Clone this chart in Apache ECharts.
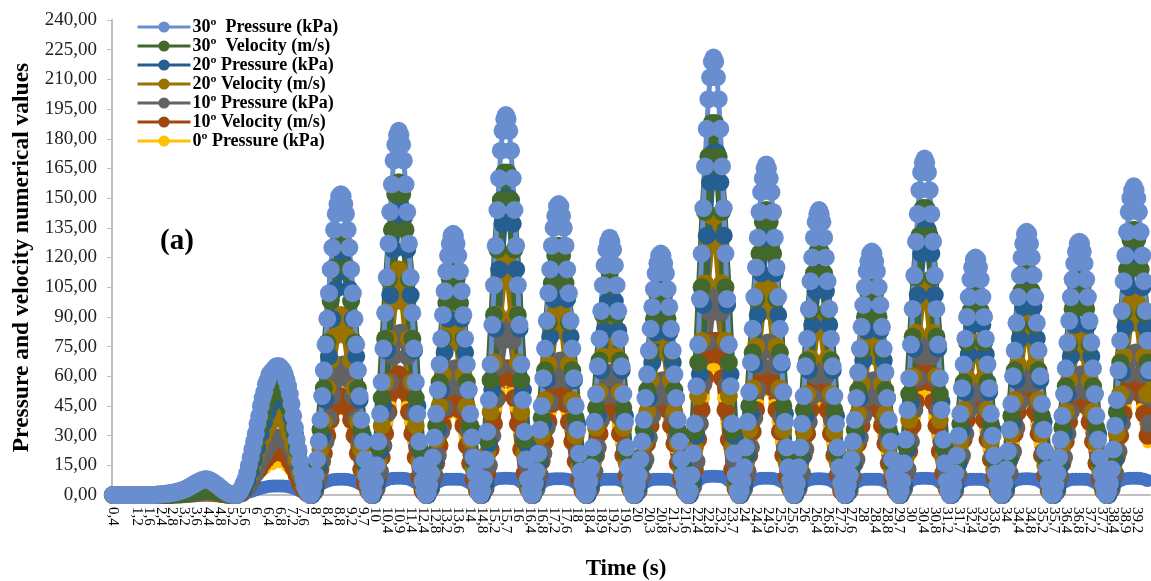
<!DOCTYPE html>
<html><head><meta charset="utf-8">
<style>html,body{margin:0;padding:0;background:#fff}#c{width:1151px;height:581px}</style>
<script src="https://cdn.jsdelivr.net/npm/echarts@6/dist/echarts.min.js"></script>
</head><body><div id="c"></div>
<script>
const timeTicks = ['0,4','0,8','1,2','1,6','2,4','2,8','3,2','3,6','4,4','4,8','5,2','5,6','6','6,4','6,8','7,2','7,6','8','8,4','8,8','9,2','9,7','10','10,4','10,9','11,4','12,4','12,8','13,2','13,6','14','14,8','15,2','15,7','16','16,4','16,8','17,2','17,6','18','18,4','18,9','19,2','19,6','20','20,3','20,8','21,2','21,6','22,4','22,8','23,2','23,7','24','24,4','24,9','25,2','25,6','26','26,4','26,8','27,2','27,6','28','28,4','28,8','29,7','30','30,4','30,8','31,2','31,7','32,4','32,9','33,6','34','34,4','34,8','35,2','35,7','36,4','36,8','37,2','37,7','38,4','38,9','39,2','39,6'];

const p30 = [0,0,0,0,0,0,0,0,0,0,0,0,0,0,0,0,0,0,0,0,0,0,0,0,0,0,.2,.2,.3,.4,.5,.6,.7,.8,1,1.1,1.3,1.5,1.7,2,2.2,2.5,2.8,3.2,3.6,4.1,4.6,5.1,5.6,6.1,6.6,7,7.4,7.7,8,7.9,7.8,7.5,7,6.4,5.8,5.2,4.5,3.8,3,2.4,1.8,1.3,.8,.5,.2,.1,
0,.2,1,2,4,6,8,11,15,19,23,27,31,36,40,45,49,52,56,58,61,62,63,64,65,65,65,64,63,61,58,55,51,46,40,34,28,23,17,12,8,4,2,.5,
0,1,5,10,18,27,38,50,63,76,89,102,114,125,134,142,147,151,152,151,147,142,134,125,114,102,89,76,63,50,38,27,18,10,5,1,
0,2,7,15,27,41,57,74,92,110,127,143,157,169,177,182,184,182,177,169,157,143,127,110,92,74,57,41,27,15,7,2,
0,1,5,11,19,29,41,53,66,79,91,103,113,121,127,131,132,131,127,121,113,103,91,79,66,53,41,29,19,11,5,1,
0,2,8,18,32,48,66,86,106,126,144,160,174,184,190,192,190,184,174,160,144,126,106,86,66,48,32,18,8,2,
0,1,6,12,21,33,45,59,74,88,102,114,126,135,141,146,147,146,141,135,126,114,102,88,74,59,45,33,21,12,6,1,
0,2,7,14,24,37,51,65,79,93,106,116,124,128,130,128,124,116,106,93,79,65,51,37,24,14,7,2,
0,1,5,10,18,27,38,49,61,73,84,95,104,112,117,121,122,121,117,112,104,95,84,73,61,49,38,27,18,10,5,1,
0,2,10,21,36,55,76,99,122,145,166,185,200,211,219,221,219,211,200,185,166,145,122,99,76,55,36,21,10,2,
0,2,7,14,24,37,52,67,84,100,115,130,143,153,160,165,167,165,160,153,143,130,115,100,84,67,52,37,24,14,7,2,
0,2,6,14,24,36,50,65,79,94,108,120,130,138,142,144,142,138,130,120,108,94,79,65,50,36,24,14,6,2,
0,1,5,10,18,27,38,49,62,74,85,96,105,113,118,122,123,122,118,113,105,96,85,74,62,49,38,27,18,10,5,1,
0,2,7,16,28,43,59,76,94,111,128,142,154,163,168,170,168,163,154,142,128,111,94,76,59,43,28,16,7,2,
0,1,5,11,20,30,41,54,66,79,90,100,109,115,119,120,119,115,109,100,90,79,66,54,41,30,20,11,5,1,
0,1,6,13,22,33,46,60,73,87,100,111,120,127,132,133,132,127,120,111,100,87,73,60,46,33,22,13,6,1,
0,1,5,11,19,28,40,51,64,77,88,100,109,117,123,127,128,127,123,117,109,100,88,77,64,51,40,28,19,11,5,1,
0,2,6,13,23,35,48,63,78,93,108,121,133,143,150,154,156,154,150,143,133,121,108,93,78,63];

const v30 = [0,0,0,0,0,0,0,0,0,0,0,0,0,.1,.1,.2,.2,.3,.4,.5,.7,.9,1.2,1.5,1.8,2.2,2.4,2.6,2.5,2.3,1.9,1.5,1,.6,.3,.1,
0,1,3,7,13,19,26,34,40,46,50,53,54,55,53,50,43,34,24,15,7,2,
0,4,16,33,54,77,98,115,127,131,127,115,98,77,54,33,16,4,
0,6,24,49,79,109,134,152,158,152,134,109,79,49,24,6,
0,5,17,35,57,79,97,109,114,109,97,79,57,35,17,5,
0,7,28,58,91,124,149,163,163,149,124,91,58,28,7,
0,5,19,39,63,87,107,121,126,121,107,87,63,39,19,5,
0,6,21,44,68,91,106,112,106,91,68,44,21,6,
0,4,16,33,53,72,89,101,105,101,89,72,53,33,16,4,
0,8,32,67,105,143,171,188,188,171,143,105,67,32,8,
0,6,22,45,72,99,122,138,144,138,122,99,72,45,22,6,
0,5,21,43,68,93,112,123,123,112,93,68,43,21,5,
0,4,16,33,53,73,90,102,106,102,90,73,53,33,16,4,
0,6,25,51,80,110,131,145,145,131,110,80,51,25,6,
0,4,18,36,57,77,93,102,102,93,77,57,36,18,4,
0,5,19,40,63,86,103,113,113,103,86,63,40,19,5,
0,4,17,34,55,76,94,106,110,106,94,76,55,34,17,4,
0,5,20,42,67,92,114,129,134,129,114,92,67];

const p20 = [0,0,0,0,0,0,0,0,0,0,0,0,0,.1,.1,.1,.2,.3,.4,.5,.6,.8,1,1.3,1.6,1.9,2.1,2.3,2.2,2,1.7,1.3,.9,.5,.2,.1,
0,1,3,7,12,18,24,31,37,42,46,48,50,50,49,45,39,31,22,14,7,2,
0,4,14,30,48,70,89,104,114,118,114,104,89,70,48,30,14,4,
0,6,22,45,73,101,124,140,146,140,124,101,73,45,22,6,
0,4,16,33,53,72,89,101,105,101,89,72,53,33,16,4,
0,6,26,53,84,114,137,150,150,137,114,84,53,26,6,
0,5,17,36,58,80,99,111,116,111,99,80,58,36,17,5,
0,5,20,40,63,83,98,103,98,83,63,40,20,5,
0,4,15,30,49,67,82,93,97,93,82,67,49,30,15,4,
0,7,30,61,96,131,158,173,173,158,131,96,61,30,7,
0,5,20,41,66,91,112,127,132,127,112,91,66,41,20,5,
0,5,19,40,63,86,103,113,113,103,86,63,40,19,5,
0,4,15,30,49,68,83,94,98,94,83,68,49,30,15,4,
0,5,23,47,74,101,122,134,134,122,101,74,47,23,5,
0,4,16,33,52,71,86,94,94,86,71,52,33,16,4,
0,4,18,37,58,79,95,104,104,95,79,58,37,18,4,
0,4,15,31,51,70,86,97,101,97,86,70,51,31,15,4,
0,5,18,38,62,85,105,118,123,118,105,85,62];

const v20 = [0,0,0,0,0,0,0,0,0,0,0,0,0,0,.1,.1,.2,.2,.3,.4,.5,.7,.9,1.1,1.4,1.7,1.9,2,2,1.8,1.5,1.1,.8,.4,.2,.1,
0,1,2,5,9,14,19,24,29,33,36,38,40,40,39,36,31,25,18,11,5,2,
0,3,11,23,37,54,68,80,88,91,88,80,68,54,37,23,11,3,
0,5,17,35,57,79,97,109,114,109,97,79,57,35,17,5,
0,4,13,28,45,61,76,85,89,85,76,61,45,28,13,4,
0,5,21,42,67,91,109,120,120,109,91,67,42,21,5,
0,4,14,30,48,66,82,92,96,92,82,66,48,30,14,4,
0,4,16,34,52,70,82,86,82,70,52,34,16,4,
0,3,13,26,42,58,71,81,84,81,71,58,42,26,13,3,
0,6,24,50,78,107,128,141,141,128,107,78,50,24,6,
0,4,16,33,54,75,92,104,108,104,92,75,54,33,16,4,
0,4,16,32,51,69,83,91,91,83,69,51,32,16,4,
0,3,12,25,41,56,69,78,81,78,69,56,41,25,12,3,
0,4,19,38,60,82,98,108,108,98,82,60,38,19,4,
0,3,13,27,43,59,70,77,77,70,59,43,27,13,3,
0,4,15,31,48,66,79,87,87,79,66,48,31,15,4,
0,3,13,26,42,58,71,81,84,81,71,58,42,26,13,3,
0,4,15,31,51,70,86,97,101,97,86,70,51];

const p10 = [0,0,0,0,0,0,0,0,0,0,0,0,0,0,.1,.1,.1,.2,.2,.3,.4,.5,.7,.9,1.1,1.3,1.4,1.5,1.5,1.3,1.1,.8,.6,.3,.1,0,
0,1,2,4,7,10,14,18,21,24,26,28,29,29,28,26,23,18,13,8,4,1,
0,2,8,17,27,39,50,58,64,66,64,58,50,39,27,17,8,2,
0,3,12,25,41,57,70,79,82,79,70,57,41,25,12,3,
0,3,10,20,32,44,54,61,64,61,54,44,32,20,10,3,
0,3,15,30,48,65,78,86,86,78,65,48,30,15,3,
0,3,10,21,34,47,58,65,68,65,58,47,34,21,10,3,
0,3,12,24,38,50,59,62,59,50,38,24,12,3,
0,2,9,18,29,40,49,56,58,56,49,40,29,18,9,2,
0,4,17,36,56,77,92,101,101,92,77,56,36,17,4,
0,3,12,24,39,53,65,74,77,74,65,53,39,24,12,3,
0,3,11,23,37,50,60,66,66,60,50,37,23,11,3,
0,2,9,18,29,40,49,56,58,56,49,40,29,18,9,2,
0,3,13,27,43,59,70,77,77,70,59,43,27,13,3,
0,2,10,20,31,43,51,56,56,51,43,31,20,10,2,
0,2,11,22,34,47,56,61,61,56,47,34,22,11,2,
0,2,9,19,31,42,52,59,61,59,52,42,31,19,9,2,
0,3,11,22,36,50,61,69,72,69,61,50,36];

const v10 = [0,0,0,0,0,0,0,0,0,0,0,0,0,0,0,.1,.1,.1,.2,.3,.3,.4,.5,.7,.8,1,1.1,1.2,1.2,1.1,.9,.7,.5,.3,.1,0,
0,.5,1,3,5,8,11,13,16,18,20,21,22,22,21,20,17,14,10,6,3,1,
0,2,6,13,21,30,38,44,49,50,49,44,38,30,21,13,6,2,
0,2,9,19,31,42,52,59,61,59,52,42,31,19,9,2,
0,2,8,16,25,35,43,48,50,48,43,35,25,16,8,2,
0,3,11,23,36,49,59,64,64,59,49,36,23,11,3,
0,2,8,17,27,37,46,52,54,52,46,37,27,17,8,2,
0,3,10,20,31,41,48,50,48,41,31,20,10,3,
0,2,8,16,26,35,43,49,51,49,43,35,26,16,8,2,
0,3,13,28,43,59,71,78,78,71,59,43,28,13,3,
0,3,9,20,32,43,54,60,63,60,54,43,32,20,9,3,
0,2,10,20,31,43,51,56,56,51,43,31,20,10,2,
0,2,8,16,26,35,43,49,51,49,43,35,26,16,8,2,
0,3,11,22,35,47,57,62,62,57,47,35,22,11,3,
0,2,9,18,28,38,45,50,50,45,38,28,18,9,2,
0,2,10,20,31,42,50,55,55,50,42,31,20,10,2,
0,2,8,16,27,37,45,51,53,51,45,37,27,16,8,2,
0,2,9,19,30,41,51,58,60,58,51,41,30];

const p0 = [0,0,0,0,0,0,0,0,0,0,0,0,0,0,0,0,.1,.1,.1,.2,.2,.3,.4,.5,.6,.7,.8,.8,.7,.6,.5,.3,.2,.1,0,0,
0,.3,1,2,4,6,8,10,12,13,15,15,16,16,16,14,12,10,7,4,2,1,
0,1,6,12,19,27,35,40,45,46,45,40,35,27,19,12,6,1,
0,2,8,16,27,37,45,51,53,51,45,37,27,16,8,2,
0,2,6,13,22,30,37,41,43,41,37,30,22,13,6,2,
0,2,10,20,32,44,52,57,57,52,44,32,20,10,2,
0,2,7,15,25,34,42,47,49,47,42,34,25,15,7,2,
0,2,8,17,26,35,41,43,41,35,26,17,8,2,
0,2,7,14,23,32,39,44,46,44,39,32,23,14,7,2,
0,3,11,23,36,49,59,64,64,59,49,36,23,11,3,
0,2,8,17,27,37,46,52,54,52,46,37,27,17,8,2,
0,2,8,16,26,35,42,47,47,42,35,26,16,8,2,
0,2,7,14,22,30,37,42,44,42,37,30,22,14,7,2,
0,2,9,18,29,39,47,51,51,47,39,29,18,9,2,
0,2,7,15,23,32,38,42,42,38,32,23,15,7,2,
0,2,8,16,26,35,42,47,47,42,35,26,16,8,2,
0,2,7,15,24,33,41,46,48,46,41,33,24,15,7,2,
0,2,8,16,26,36,44,50,52,50,44,36,26];

const v0 = [0,0,0,0,0,0,0,0,0,0,0,0,0,0,0,0,0,0,.1,.1,.1,.1,.2,.2,.2,.3,.3,.3,.3,.2,.2,.2,.1,.1,.1,0,
0,.2,.5,1,1.5,2,2.6,3.2,3.7,4.1,4.4,4.5,4.6,4.6,4.5,4.4,4,3.5,2.8,2,1.1,.4,
0,2,3.8,5.2,6.2,7,7.5,7.8,8,8,8,7.8,7.5,7,6.2,5.2,3.8,2,
0,2.5,4.5,6.2,7.3,8,8.3,8.5,8.5,8.5,8.3,8,7.3,6.2,4.5,2.5,
0,2.4,4.3,5.8,6.9,7.6,7.9,8,8,8,7.9,7.6,6.9,5.8,4.3,2.4,
0,2.6,4.8,6.4,7.6,8.2,8.4,8.5,8.5,8.4,8.2,7.6,6.4,4.8,2.6,
0,2.4,4.4,6,7.1,7.8,8.1,8.2,8.2,8.2,8.1,7.8,7.1,6,4.4,2.4,
0,2.8,5,6.6,7.5,7.9,8,8,8,7.9,7.5,6.6,5,2.8,
0,2.4,4.3,5.8,6.9,7.6,7.9,8,8,8,7.9,7.6,6.9,5.8,4.3,2.4,
0,3,5.4,7.2,8.5,9.2,9.4,9.5,9.5,9.4,9.2,8.5,7.2,5.4,3,
0,2.5,4.5,6.2,7.3,8,8.3,8.5,8.5,8.5,8.3,8,7.3,6.2,4.5,2.5,
0,2.5,4.6,6.2,7.3,7.9,8.1,8.2,8.2,8.1,7.9,7.3,6.2,4.6,2.5,
0,2.4,4.3,5.8,6.9,7.6,7.9,8,8,8,7.9,7.6,6.9,5.8,4.3,2.4,
0,2.6,4.8,6.4,7.6,8.2,8.4,8.5,8.5,8.4,8.2,7.6,6.4,4.8,2.6,
0,2.4,4.5,6,7.1,7.7,7.9,8,8,7.9,7.7,7.1,6,4.5,2.4,
0,2.5,4.6,6.2,7.3,7.9,8.1,8.2,8.2,8.1,7.9,7.3,6.2,4.6,2.5,
0,2.4,4.3,5.8,6.9,7.6,7.9,8,8,8,7.9,7.6,6.9,5.8,4.3,2.4,
0,2.5,4.5,6.2,7.3,8,8.3,8.5,8.5,8.5,8.3,8,7.3];

const LABEL_EVERY = 7;
const categories = p30.map((_, i) => i % LABEL_EVERY === 0 ? (timeTicks[i / LABEL_EVERY] || '') : '');
const fullRate = a => a.map((v, i) => [i, v]);
const evenSlots = a => a.map((v, i) => [2 * i, v]);
const oddSlots = a => a.map((v, i) => [2 * i + 1, v]);

function line(name, data, color, size, width) {
  return { name, type: 'line', data, symbol: 'circle', symbolSize: size, showSymbol: true, showAllSymbol: true,
    smooth: false, clip: false, silent: true, animation: false,
    lineStyle: { color, width }, itemStyle: { color, borderWidth: 0 } };
}
const serif = '"Liberation Serif","Times New Roman",serif';
const chart = echarts.init(document.getElementById('c'), null, { renderer: 'canvas' });
chart.setOption({
  animation: false, backgroundColor: '#fff',
  grid: { left: 112, top: 20, width: 1038, height: 475, containLabel: false, outerBoundsMode: 'none' },
  xAxis: { type: 'category', data: categories, boundaryGap: true,
    name: 'Time (s)', nameLocation: 'middle', nameGap: 63,
    nameTextStyle: { fontFamily: serif, fontWeight: 'bold', fontSize: 23, color: '#000', padding: [0, 10, 0, 0] },
    axisLine: { lineStyle: { color: '#bfbfbf', width: 2 } }, axisTick: { show: false },
    axisLabel: { interval: LABEL_EVERY - 1, rotate: -90, margin: 12, fontFamily: serif, fontSize: 15, color: '#000', hideOverlap: false, showMinLabel: true, showMaxLabel: false },
    splitLine: { show: false } },
  yAxis: { type: 'value', min: 0, max: 240, interval: 15,
    name: 'Pressure and velocity numerical values', nameLocation: 'middle', nameGap: 78,
    nameTextStyle: { fontFamily: serif, fontWeight: 'bold', fontSize: 23.5, color: '#000' },
    axisLine: { show: true, lineStyle: { color: '#bfbfbf', width: 2 } },
    axisTick: { show: true, length: 5, lineStyle: { color: '#bfbfbf' } },
    axisLabel: { fontFamily: serif, fontSize: 19, color: '#222', margin: 15, formatter: v => v.toFixed(2).replace('.', ',') },
    splitLine: { show: false } },
  legend: { show: true, orient: 'vertical', left: 136, top: 18, itemWidth: 53, itemHeight: 14, itemGap: 1, padding: 0,
    lineStyle: { width: 3 },
    data: ['30º  Pressure (kPa)', '30º  Velocity (m/s)', '20º Pressure (kPa)', '20º Velocity (m/s)', '10º Pressure (kPa)', '10º Velocity (m/s)', '0º Pressure (kPa)'],
    textStyle: { fontFamily: serif, fontWeight: 'bold', fontSize: 18, color: '#000', padding: [0, 0, 0, -3] } },
  graphic: [{ type: 'text', left: 160, top: 227, z: 100, style: { text: '(a)', font: 'bold 29px ' + serif, fill: '#000' } }],
  series: [
    line('0º Velocity (m/s)', evenSlots(v0), '#4472C4', 13, 10),
    line('0º Pressure (kPa)', evenSlots(p0), '#FFC000', 10, 6),
    line('10º Velocity (m/s)', evenSlots(v10), '#9E480E', 18, 12),
    line('10º Pressure (kPa)', oddSlots(p10), '#636363', 18, 10),
    line('20º Velocity (m/s)', evenSlots(v20), '#997300', 18, 12),
    line('20º Pressure (kPa)', oddSlots(p20), '#255E91', 18, 10),
    line('30º  Velocity (m/s)', evenSlots(v30), '#43682B', 18, 11),
    line('30º  Pressure (kPa)', fullRate(p30), '#698ED0', 18, 5)
  ]
});
</script></body></html>
